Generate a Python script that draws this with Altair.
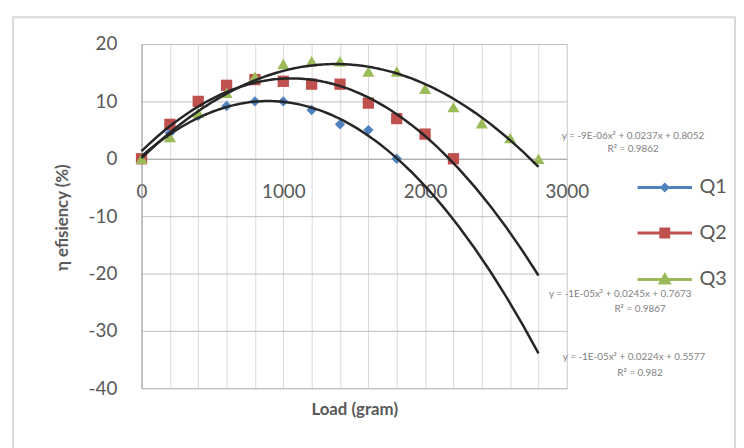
import altair as alt
import pandas as pd

# ---- data ----
series_names = ["Q1", "Q2", "Q3"]
colors = ["#4F81BD", "#C0504D", "#9BBB59"]

load_q1 = [0, 200, 400, 600, 800, 1000, 1200, 1400, 1600, 1800]
eff_q1 = [0, 4.5, 7.5, 9.2, 10.0, 10.0, 8.5, 6.0, 5.0, 0]

load_q2 = [0, 200, 400, 600, 800, 1000, 1200, 1400, 1600, 1800, 2000, 2200]
eff_q2 = [0, 6.0, 10.0, 12.8, 13.8, 13.5, 13.0, 13.0, 9.7, 7.0, 4.3, 0]

load_q3 = [0, 200, 400, 600, 800, 1000, 1200, 1400, 1600, 1800, 2000, 2200, 2400, 2600, 2800]
eff_q3 = [0, 3.8, 8.0, 11.5, 14.3, 16.5, 17.0, 17.0, 15.2, 15.2, 12.2, 9.0, 6.2, 3.6, 0]

eq_lines = [
    "y = -9E-06x² + 0.0237x + 0.8052", "R² = 0.9862",
    "y = -1E-05x² + 0.0245x + 0.7673", "R² = 0.9867",
    "y = -1E-05x² + 0.0224x + 0.5577", "R² = 0.982",
]
eq_x = [3467, 3467, 3377, 3516, 3474, 3516]
eq_y = [4.0, 1.7, -23.6, -26.2, -34.5, -37.4]

x_grid_values = list(range(0, 3001, 200))
y_values = list(range(-40, 21, 10))

# legend symbols: a line with the series marker in the middle
legend_paths = [
    "M-5.5,0H5.5M0,-0.6L0.6,0L0,0.6L-0.6,0Z",
    "M-5.5,0H5.5M-0.8,-0.8H0.8V0.8H-0.8Z",
    "M-5.5,0H5.5M0,-0.9L0.9,0.7H-0.9Z",
]

rows = []
for name, xs, ys in [("Q1", load_q1, eff_q1), ("Q2", load_q2, eff_q2), ("Q3", load_q3, eff_q3)]:
    for a, b in zip(xs, ys):
        rows.append({"series": name, "load": a, "eff": b})
df = pd.DataFrame(rows)

eq_df = pd.DataFrame({"text": eq_lines, "load": eq_x, "eff": eq_y})
legend_df = pd.DataFrame({"series": series_names})
frame_df = pd.DataFrame({"k": [0]})

GRAY = "#595959"
FONT = "Lato"

x_axis = alt.Axis(
    values=x_grid_values,
    labelExpr="datum.value % 1000 == 0 ? '' + datum.value : ''",
    title="Load (gram)",
    offset=-232,
    labelPadding=24,
    labelFontSize=19,
    labelColor=GRAY,
    labelFont=FONT,
    labelFlush=False,
    labelOverlap=False,
    ticks=False,
    domainColor="#a6a6a6",
    grid=True,
    gridColor="#d9d9d9",
    titleFontSize=17,
    titleFontWeight="bold",
    titleColor=GRAY,
    titleFont=FONT,
    titleY=254,
    titleBaseline="middle",
)
y_axis = alt.Axis(
    values=y_values,
    labelExpr="'' + datum.value",
    title="η efisiency (%)",
    labelPadding=25,
    labelFontSize=19,
    labelColor=GRAY,
    labelFont=FONT,
    labelOverlap=False,
    ticks=False,
    domainColor="#a6a6a6",
    grid=True,
    gridColor="#bfbfbf",
    titleFontSize=17,
    titleFontWeight="bold",
    titleColor=GRAY,
    titleFont=FONT,
    titleAngle=270,
    titleX=-80,
    titleY=175,
    titleAlign="center",
    titleBaseline="middle",
)
x_enc = alt.X("load:Q", scale=alt.Scale(domain=[0, 3000], nice=False, zero=False), axis=x_axis)
y_enc = alt.Y("eff:Q", scale=alt.Scale(domain=[-40, 20], nice=False, zero=False), axis=y_axis)

frame = alt.Chart(frame_df).mark_rect(
    fillOpacity=0, stroke="#d9d9d9", strokeWidth=2
).encode(
    x=alt.value(-130), x2=alt.value(600), y=alt.value(-27), y2=alt.value(430)
)

base = alt.Chart(df)

shapes = {"Q1": ("diamond", 110), "Q2": ("square", 130), "Q3": ("triangle-up", 150)}
point_layers = []
for name, col in zip(series_names, colors):
    shp, sz = shapes[name]
    point_layers.append(
        base.transform_filter(alt.datum.series == name)
        .mark_point(filled=True, shape=shp, size=sz, opacity=1, color=col)
        .encode(x=x_enc, y=y_enc)
    )

trend = base.transform_regression(
    "load", "eff", groupby=["series"], method="poly", order=2, extent=[0, 2800]
).mark_line(color="#262626", strokeWidth=2.5).encode(
    x=x_enc, y=y_enc, detail="series:N"
)

eqs = alt.Chart(eq_df).mark_text(
    fontSize=10, color="#7f7f7f", font=FONT, align="center", baseline="middle"
).encode(x=x_enc, y=y_enc, text="text:N")

leg = alt.Legend(
    title=None,
    orient="none",
    legendX=519,
    legendY=135,
    padding=0,
    labelFontSize=20,
    labelColor=GRAY,
    labelFont=FONT,
    labelOffset=25,
    rowPadding=26,
    symbolSize=100,
    symbolStrokeWidth=3,
)
legend_layer = alt.Chart(legend_df).mark_point(
    filled=True, opacity=1, size=100, clip=True
).encode(
    x=alt.value(0),
    y=alt.value(-1000),
    color=alt.Color("series:N", scale=alt.Scale(domain=series_names, range=colors), legend=leg),
    stroke=alt.Stroke("series:N", scale=alt.Scale(domain=series_names, range=colors), legend=leg),
    shape=alt.Shape("series:N", scale=alt.Scale(domain=series_names, range=legend_paths), legend=leg),
)

chart = alt.layer(
    frame, *point_layers, trend, eqs, legend_layer
).properties(
    width=430,
    height=348,
    autosize=alt.AutoSizeParams(type="none"),
    padding={"left": 135, "top": 34, "right": 171, "bottom": 58},
).configure(
    font=FONT, background="white"
).configure_view(
    stroke="#bfbfbf", strokeWidth=1
)

chart.save("out.html", embed_options={"renderer": "svg", "actions": False})
